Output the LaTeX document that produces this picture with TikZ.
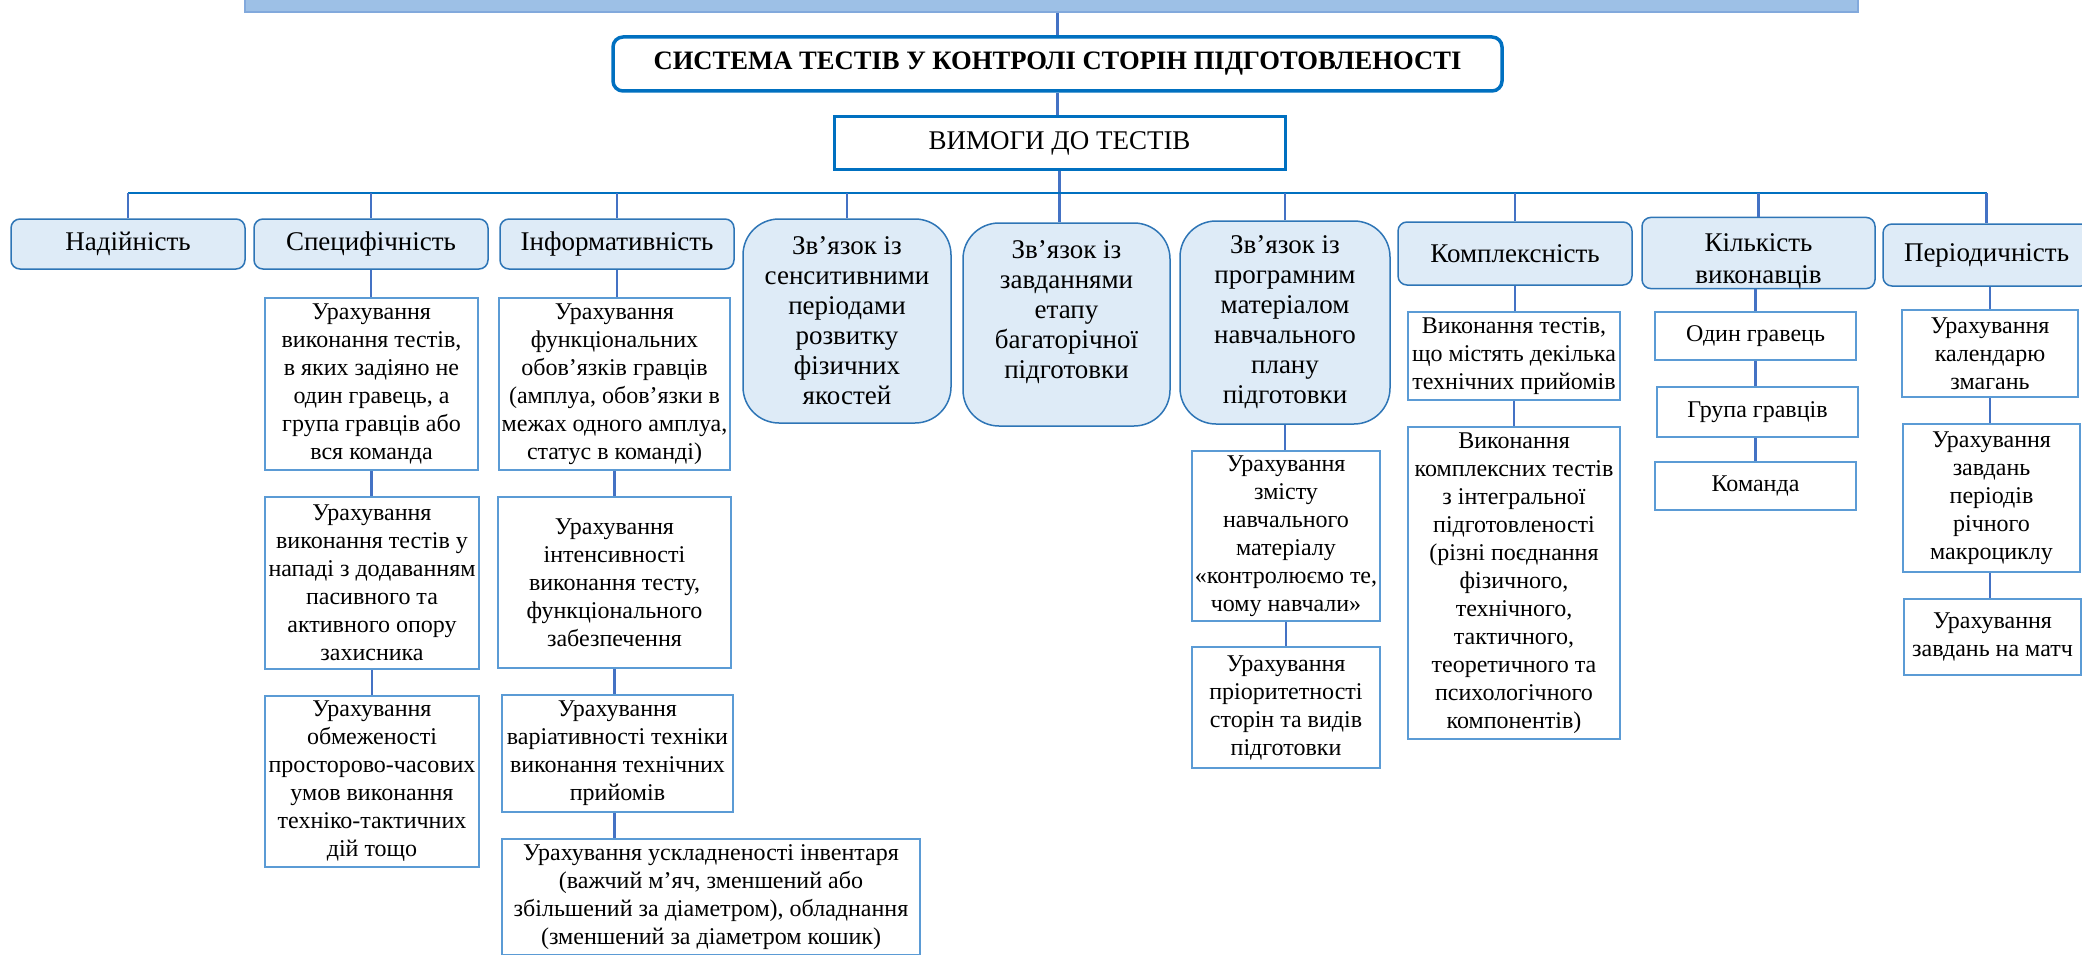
\documentclass[tikz,border=0pt]{standalone}
\usepackage{fontspec}
\setmainfont{Liberation Serif}
\definecolor{lonefill}{HTML}{DEEBF7}
\definecolor{loneborder}{HTML}{2E75B6}
\definecolor{chborder}{HTML}{5B9BD5}
\definecolor{conncol}{HTML}{4472C4}
\definecolor{buscol}{HTML}{0070C0}
\definecolor{barfill}{HTML}{9DC0E6}
\definecolor{barborder}{HTML}{82A9DC}
\begin{document}
\begin{tikzpicture}[x=1pt,y=-1pt,
  lone/.style={draw=loneborder, fill=lonefill, line width=1.5pt, rounded corners=9pt, align=center, inner sep=0pt, font=\fontsize{27}{30}\selectfont},
  lbig/.style={lone, rounded corners=36pt},
  chbox/.style={draw=chborder, fill=white, line width=2pt, align=center, inner sep=0pt, font=\fontsize{24}{28}\selectfont},
  conn/.style={draw=conncol, line width=2.5pt},
  busline/.style={draw=buscol, line width=2.5pt}
]
\useasboundingbox (0,0) rectangle (2082,955);
% top bar
\node[draw=barborder, fill=barfill, line width=1.5pt, minimum width=1613pt, minimum height=24pt, inner sep=0pt] (bar) at (1051.5,0) {};
% title
\node[draw=buscol, line width=3.5pt, rounded corners=10pt, minimum width=889pt, minimum height=54pt, inner sep=0pt, font=\fontsize{26.6}{30}\selectfont\bfseries] (title) at (1057.5,64) {СИСТЕМА ТЕСТІВ У КОНТРОЛІ СТОРІН ПІДГОТОВЛЕНОСТІ};
\node[draw=buscol, line width=3pt, minimum width=451pt, minimum height=52pt, inner sep=0pt, font=\fontsize{27}{30}\selectfont] (vimogi) at (1059.5,143) {ВИМОГИ ДО ТЕСТІВ};
\coordinate (bus) at (0,193);
% level one
\node[lone, minimum width=234pt, minimum height=50pt] (nad) at (128,244) {Надійність};
\node[lone, minimum width=234pt, minimum height=50pt] (spec) at (371,244) {Специфічність};
\node[lone, minimum width=234pt, minimum height=50pt] (info) at (617,244) {Інформативність};
\node[lbig, minimum width=208pt, minimum height=204pt] (sens) at (847,321) {Зв’язок із\\сенситивними\\періодами\\розвитку\\фізичних\\якостей};
\node[lbig, minimum width=207pt, minimum height=203pt] (zavd) at (1066.5,324.5) {Зв’язок із\\завданнями\\етапу\\багаторічної\\підготовки\\\mbox{}};
\node[lbig, minimum width=210pt, minimum height=203pt] (prog) at (1285,322.5) {Зв’язок із\\програмним\\матеріалом\\навчального\\плану\\підготовки};
\node[lone, minimum width=234pt, minimum height=63pt] (kompl) at (1515,253.5) {Комплексність};
\node[lone, minimum width=233pt, minimum height=62pt, font=\fontsize{27}{32}\selectfont] (kilk) at (1758.5,253) {\rule{0pt}{34pt}Кількість\\виконавців};
\node[lone, minimum width=207pt, minimum height=62pt] (period) at (1986.5,255) {Періодичність};
% children: Специфічність
\node[chbox, minimum width=213pt, minimum height=172pt] (s1) at (371.5,384) {Урахування\\виконання тестів,\\в яких задіяно не\\один гравець, а\\група гравців або\\вся команда};
\node[chbox, minimum width=214pt, minimum height=172pt] (s2) at (372,583) {Урахування\\виконання тестів у\\нападі з додаванням\\пасивного та\\активного опору\\захисника};
\node[chbox, minimum width=214pt, minimum height=171pt] (s3) at (372,781.5) {Урахування\\обмеженості\\просторово-часових\\умов виконання\\техніко-тактичних\\дій тощо};
% children: Інформативність
\node[chbox, minimum width=231pt, minimum height=172pt] (i1) at (614.5,384) {Урахування\\функціональних\\обов’язків гравців\\(амплуа, обов’язки в\\межах одного амплуа,\\статус в команді)};
\node[chbox, minimum width=233pt, minimum height=171pt] (i2) at (614.5,582.5) {Урахування\\інтенсивності\\виконання тесту,\\функціонального\\забезпечення};
\node[chbox, minimum width=231pt, minimum height=117pt] (i3) at (617.5,753.5) {Урахування\\варіативності техніки\\виконання технічних\\прийомів};
\node[chbox, minimum width=418pt, minimum height=116pt] (i4) at (711,897) {Урахування ускладненості інвентаря\\(важчий м’яч, зменшений або\\збільшений за діаметром), обладнання\\(зменшений за діаметром кошик)};
% children: програмним
\node[chbox, minimum width=188pt, minimum height=170pt] (p1) at (1286,536) {Урахування\\змісту\\навчального\\матеріалу\\«контролюємо те,\\чому навчали»};
\node[chbox, minimum width=188pt, minimum height=121pt] (p2) at (1286,707.5) {Урахування\\пріоритетності\\сторін та видів\\підготовки};
% children: Комплексність
\node[chbox, minimum width=212pt, minimum height=88pt] (k1) at (1514,356) {Виконання тестів,\\що містять декілька\\технічних прийомів};
\node[chbox, minimum width=212pt, minimum height=312pt] (k2) at (1514,583) {Виконання\\комплексних тестів\\з інтегральної\\підготовленості\\(різні поєднання\\фізичного,\\технічного,\\тактичного,\\теоретичного та\\психологічного\\компонентів)};
% children: Кількість виконавців
\node[chbox, minimum width=201pt, minimum height=48pt] (n1) at (1755.5,336) {Один гравець};
\node[chbox, minimum width=201pt, minimum height=50pt] (n2) at (1757.5,412) {Група гравців};
\node[chbox, minimum width=201pt, minimum height=48pt] (n3) at (1755.5,486) {Команда};
% children: Періодичність
\node[chbox, minimum width=176pt, minimum height=87pt] (r1) at (1990,353.5) {Урахування\\календарю\\змагань};
\node[chbox, minimum width=177pt, minimum height=148pt] (r2) at (1991.5,498) {Урахування\\завдань\\періодів\\річного\\макроциклу};
\node[chbox, minimum width=177pt, minimum height=76pt] (r3) at (1992.5,637) {Урахування\\завдань на матч};
% connectors
\draw[conn] (bar.south -| title.north) -- (title.north);
\draw[conn] (title.south) -- (title.south |- vimogi.north);
\draw[conn] (vimogi.south) -- (vimogi.south |- zavd.north);
\draw[busline] (nad.north |- bus) -- (period.north |- bus);
\foreach \n in {nad,spec,info,sens,prog,kompl,kilk,period}{
  \draw[conn] (\n.north |- bus) -- (\n.north);
}
\draw[conn] (spec.south) -- (spec.south |- s1.north);
\draw[conn] (s1.south) -- (s1.south |- s2.north);
\draw[conn] (s2.south) -- (s2.south |- s3.north);
\draw[conn] (info.south) -- (info.south |- i1.north);
\draw[conn] (i1.south) -- (i1.south |- i2.north);
\draw[conn] (i2.south) -- (i2.south |- i3.north);
\draw[conn] (i3.south -| i2.south) -- (i2.south |- i4.north);
\draw[conn] (prog.south) -- (prog.south |- p1.north);
\draw[conn] (p1.south) -- (p1.south |- p2.north);
\draw[conn] (kompl.south) -- (kompl.south |- k1.north);
\draw[conn] (k1.south) -- (k1.south |- k2.north);
\draw[conn] (kilk.south -| n1.north) -- (n1.north);
\draw[conn] (n1.south) -- (n1.south |- n2.north);
\draw[conn] (n2.south -| n1.south) -- (n1.south |- n3.north);
\draw[conn] (period.south -| r1.north) -- (r1.north);
\draw[conn] (r1.south -| r1.north) -- (r1.north |- r2.north);
\draw[conn] (r2.south -| r1.north) -- (r1.north |- r3.north);
\end{tikzpicture}
\end{document}
